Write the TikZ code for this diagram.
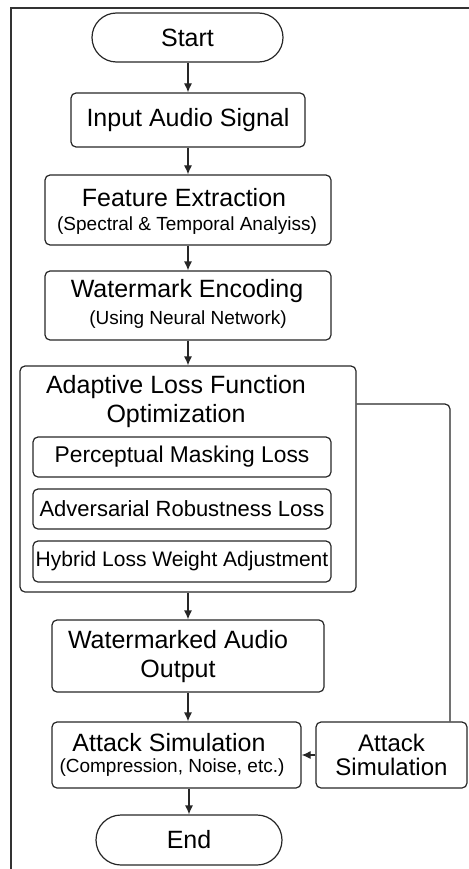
\documentclass[tikz,border=0pt]{standalone}
\usepackage{fontspec}
\setmainfont{Liberation Sans}
\usetikzlibrary{shapes.misc,arrows.meta,calc}
\begin{document}
\begin{tikzpicture}[x=1pt,y=-1pt,
  box/.style={draw=black!85, line width=1.2pt, rounded corners=5pt, inner sep=0pt},
  term/.style={draw=black!85, line width=1.2pt, rounded rectangle, inner sep=0pt},
  big/.style={font=\fontsize{25}{29}\selectfont, align=center},
  sub/.style={font=\fontsize{19}{22}\selectfont},
  mid/.style={font=\fontsize{22}{26}\selectfont},
  arr/.style={line width=1.2pt, draw=black!85, -{Latex[length=9pt,width=8pt]}},
  link/.style={line width=1.2pt, draw=black!85}
]
\useasboundingbox (0,0) rectangle (468,869);
% outer frame (cropped)
\draw[line width=1.6pt, black!80] (11,875) -- (11,8) -- (475,8);

\node[term, minimum width=191pt, minimum height=49pt, big] (start) at (187.5,37.5) {Start};
\node[box, minimum width=234pt, minimum height=54pt, big] (input) at (188,120) {Input Audio Signal};

\node[box, minimum width=286pt, minimum height=70pt] (feat) at (188,210) {};
\node[big] (featT) at (184,198) {Feature Extraction};
\node[sub] (featS) at (187,226) {(Spectral \& Temporal Analyiss)};

\node[box, minimum width=286pt, minimum height=69pt] (enc) at (188,305.5) {};
\node[big] (encT) at (187,291) {Watermark Encoding};
\node[sub] (encS) at (188,320) {(Using Neural Network)};

\node[box, minimum width=336pt, minimum height=226pt] (adapt) at (188,479) {};
\node[big] (adaptT) at (176,402) {Adaptive Loss Function\\Optimization};
\node[box, minimum width=298pt, minimum height=40pt, font=\fontsize{22.8}{26}\selectfont] (perc) at (182,457) {Perceptual Masking Loss};
\node[box, minimum width=298pt, minimum height=40pt, mid] (adv) at (182,509) {Adversarial Robustness Loss};
\node[box, minimum width=298pt, minimum height=41pt, font=\fontsize{21}{24}\selectfont] (hyb) at (182,561.5) {Hybrid Loss Weight Adjustment};

\node[box, minimum width=272pt, minimum height=72pt] (wm) at (188,656) {};
\node[big] (wmT) at (178,657) {Watermarked Audio\\Output};

\node[box, minimum width=249pt, minimum height=66pt] (att) at (176.5,755) {};
\node[big] (attT) at (169,743) {Attack Simulation};
\node[sub] (attS) at (172,768) {(Compression, Noise, etc.)};

\node[box, minimum width=151pt, minimum height=66pt, font=\fontsize{24}{24}\selectfont, align=center] (side) at (391.5,755) {Attack\\Simulation};

\node[term, minimum width=186pt, minimum height=50pt, big] (end) at (189,840) {End};

\coordinate (fb) at (450,404);

\draw[arr] (start.south -| input.north) -- (input.north);
\draw[arr] (input.south) -- (feat.north);
\draw[arr] (feat.south) -- (enc.north);
\draw[arr] (enc.south) -- (adapt.north);
\draw[arr] (adapt.south) -- (wm.north);
\draw[arr] (wm.south) -- (wm.south |- att.north);
\draw[arr] (end.north |- att.south) -- (end.north);
\draw[link, rounded corners=5pt] (adapt.east |- fb) -- (fb) -- (fb |- side.north);
\draw[arr] (side.west) -- (att.east);
\end{tikzpicture}
\end{document}
